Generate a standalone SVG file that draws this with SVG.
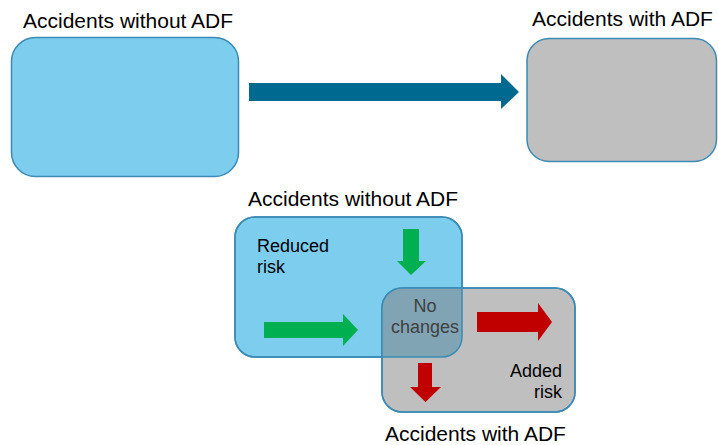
<svg xmlns="http://www.w3.org/2000/svg" width="718" height="445" viewBox="0 0 718 445">
<style>
.lbl{font-family:"Liberation Sans",Arial,sans-serif;font-size:21px;fill:#000}
.in{font-family:"Liberation Sans",Arial,sans-serif;font-size:18px;fill:#000}
.blue{fill:#7DCDEF;stroke:#3B8BB5;stroke-width:1.5}
.gray{fill:#BFBFBF;stroke:#3B8BB5;stroke-width:1.5}
.edge{fill:none;stroke:#3B8BB5;stroke-width:1.5}
</style>
<defs>
<clipPath id="clipBlue"><rect x="235" y="217" width="227" height="140" rx="20"/></clipPath>
</defs>
<rect width="718" height="445" fill="#fff"/>
<g id="top-without">
<rect class="blue" x="11.5" y="37.5" width="227" height="139" rx="24"/>
<text class="lbl" x="23" y="28">Accidents without ADF</text>
</g>
<g id="top-with">
<rect class="gray" x="527" y="38.5" width="189.5" height="123" rx="22"/>
<text class="lbl" x="532" y="26">Accidents with ADF</text>
</g>
<g id="bottom-without">
<rect class="blue" x="235" y="217" width="227" height="140" rx="20"/>
<text class="lbl" x="248" y="206">Accidents without ADF</text>
<text class="in" x="257" y="252">Reduced</text>
<text class="in" x="257" y="273">risk</text>
</g>
<g id="bottom-with">
<rect class="gray" x="382" y="288" width="193" height="124" rx="20"/>
<text class="lbl" x="385" y="441">Accidents with ADF</text>
<text class="in" x="562" y="377" text-anchor="end">Added</text>
<text class="in" x="562" y="398" text-anchor="end">risk</text>
</g>
<g id="overlap">
<rect x="382" y="288" width="193" height="124" rx="20" fill="#80A4B4" clip-path="url(#clipBlue)"/>
<rect class="edge" x="235" y="217" width="227" height="140" rx="20"/>
<rect class="edge" x="382" y="288" width="193" height="124" rx="20"/>
<text class="in" x="425" y="312" text-anchor="middle" fill="#404040" style="fill:#404040">No</text>
<text class="in" x="425" y="333" text-anchor="middle" style="fill:#404040">changes</text>
</g>
<g id="connectors">
<polygon fill="#006990" points="249,83 501,83 501,74 519,92 501,109 501,101 249,101"/>
<polygon fill="#00B050" points="403,229 419,229 419,261 426,261 411,275 397,261 403,261"/>
<polygon fill="#00B050" points="264,322 343,322 343,314 358,330 343,346 343,338 264,338"/>
<polygon fill="#C00000" points="477,312 538,312 538,303 552,322 538,341 538,332 477,332"/>
<polygon fill="#C00000" points="418,363 432,363 432,387 441,387 425.5,402 410,387 418,387"/>
</g>
</svg>
